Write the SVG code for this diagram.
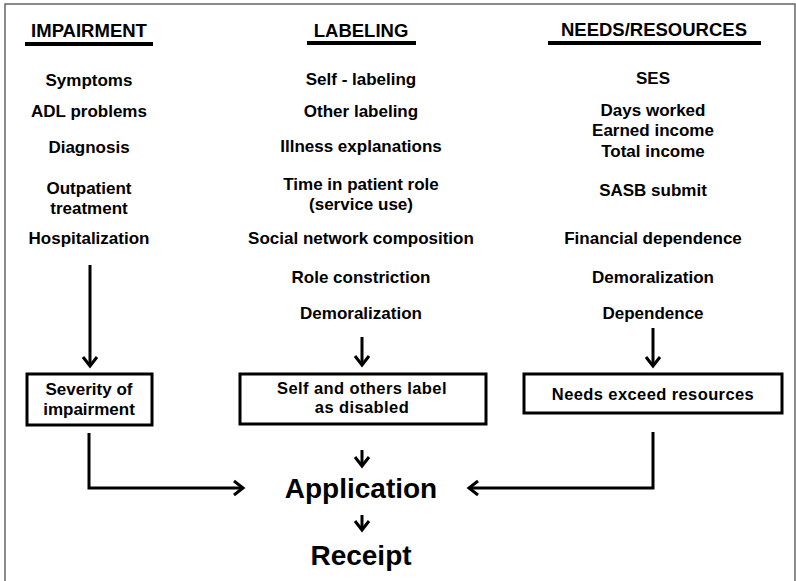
<svg xmlns="http://www.w3.org/2000/svg" width="796" height="581" viewBox="0 0 796 581">
<style>
text{font-family:"Liberation Sans",Arial,sans-serif;font-weight:bold;fill:#000;text-anchor:middle}
.h{font-size:18.5px}
.t{font-size:17px}
.b{font-size:16.5px;letter-spacing:0.4px}
.big{font-size:28px}
.ul{stroke:#000;stroke-width:4}
.box{fill:#fff;stroke:#000;stroke-width:3}
.ln{fill:none;stroke:#000;stroke-width:3}
</style>
<defs>
<marker id="ah" markerUnits="userSpaceOnUse" viewBox="-10 -10 20 20" markerWidth="20" markerHeight="20" refX="0" refY="0" orient="auto">
<polyline points="-9,-7 0,0 -9,7" fill="none" stroke="#000" stroke-width="3"/>
</marker>
</defs>
<rect width="796" height="581" fill="#fff"/>
<path d="M5,581 V4 H795 V581" fill="none" stroke="#666" stroke-width="1.5"/>
<g id="col-impairment">
<text class="h" x="89" y="37">IMPAIRMENT</text>
<line class="ul" x1="25" y1="44" x2="153" y2="44"/>
<text class="t" x="89" y="86">Symptoms</text>
<text class="t" x="89" y="117">ADL problems</text>
<text class="t" x="89" y="153">Diagnosis</text>
<text class="t" x="89" y="194">Outpatient</text>
<text class="t" x="89" y="214">treatment</text>
<text class="t" x="89" y="244">Hospitalization</text>
</g>
<g id="col-labeling">
<text class="h" x="361" y="37">LABELING</text>
<line class="ul" x1="307" y1="43" x2="416" y2="43"/>
<text class="t" x="361" y="85">Self - labeling</text>
<text class="t" x="361" y="117">Other  labeling</text>
<text class="t" x="361" y="152">Illness explanations</text>
<text class="t" x="361" y="190">Time in patient  role</text>
<text class="t" x="361" y="210">(service use)</text>
<text class="t" x="361" y="244">Social network composition</text>
<text class="t" x="361" y="283">Role constriction</text>
<text class="t" x="361" y="319">Demoralization</text>
</g>
<g id="col-needs">
<text class="h" x="654" y="36">NEEDS/RESOURCES</text>
<line class="ul" x1="548" y1="43" x2="761" y2="43"/>
<text class="t" x="653" y="84">SES</text>
<text class="t" x="653" y="116">Days worked</text>
<text class="t" x="653" y="136">Earned income</text>
<text class="t" x="653" y="157">Total income</text>
<text class="t" x="653" y="196">SASB  submit</text>
<text class="t" x="653" y="244">Financial  dependence</text>
<text class="t" x="653" y="283">Demoralization</text>
<text class="t" x="653" y="319">Dependence</text>
</g>
<g id="node-severity">
<rect class="box" x="27" y="374" width="125" height="51"/>
<text class="t" x="89" y="395">Severity of</text>
<text class="t" x="89" y="415">impairment</text>
</g>
<g id="node-label">
<rect class="box" x="240" y="374" width="246" height="50"/>
<text class="b" x="362" y="394">Self and others label</text>
<text class="b" x="362" y="413">as disabled</text>
</g>
<g id="node-needs">
<rect class="box" x="524" y="374" width="258" height="39"/>
<text class="b" x="653" y="400">Needs exceed  resources</text>
</g>
<g id="node-application">
<text class="big" x="361" y="498">Application</text>
</g>
<g id="node-receipt">
<text class="big" x="361" y="565">Receipt</text>
</g>
<g id="connectors">
<line class="ln" x1="90" y1="265" x2="90" y2="366" marker-end="url(#ah)"/>
<line class="ln" x1="362" y1="337" x2="362" y2="365" marker-end="url(#ah)"/>
<line class="ln" x1="653" y1="328" x2="653" y2="366" marker-end="url(#ah)"/>
<line class="ln" x1="362" y1="450" x2="362" y2="466" marker-end="url(#ah)"/>
<line class="ln" x1="362" y1="515" x2="362" y2="530" marker-end="url(#ah)"/>
<polyline class="ln" points="89,433 89,488 243,488" marker-end="url(#ah)"/>
<polyline class="ln" points="653,432 653,488 469,488" marker-end="url(#ah)"/>
</g>
</svg>
